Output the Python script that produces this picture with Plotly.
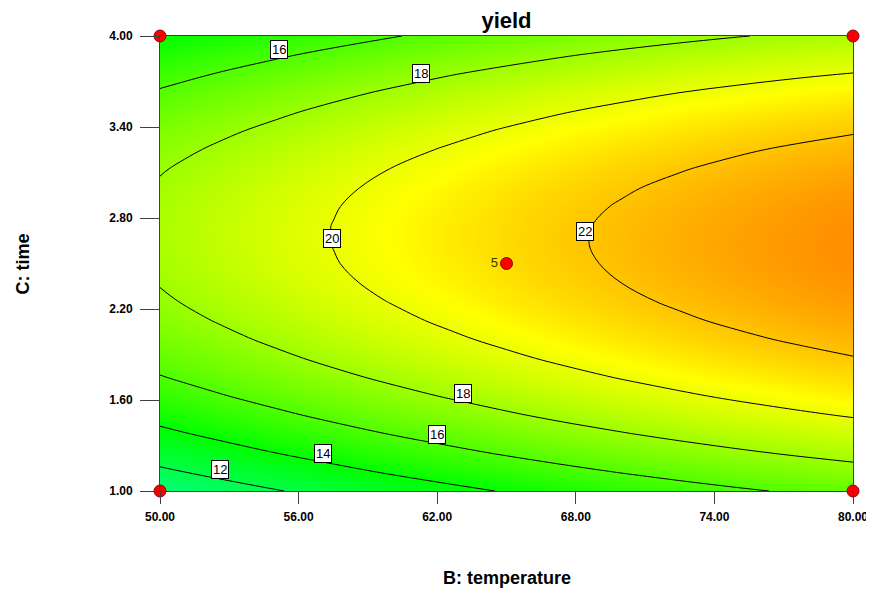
import plotly.graph_objects as go

# ---- data ----
temperature = [50, 52.5, 55, 57.5, 60, 62.5, 65, 67.5, 70, 72.5, 75, 77.5, 80]
time = [1.000, 1.125, 1.250, 1.375, 1.500, 1.625, 1.750, 1.875, 2.000, 2.125, 2.250, 2.375,
        2.500, 2.625, 2.750, 2.875, 3.000, 3.125, 3.250, 3.375, 3.500, 3.625, 3.750, 3.875, 4.000]
yield_grid = [
    [10.63, 11.29, 11.91, 12.50, 13.07, 13.60, 14.10, 14.57, 15.01, 15.43, 15.81, 16.16, 16.48],
    [11.72, 12.37, 12.99, 13.58, 14.14, 14.66, 15.16, 15.63, 16.06, 16.47, 16.85, 17.19, 17.51],
    [12.73, 13.37, 13.99, 14.57, 15.12, 15.65, 16.14, 16.60, 17.03, 17.43, 17.80, 18.14, 18.45],
    [13.65, 14.29, 14.90, 15.48, 16.03, 16.54, 17.03, 17.49, 17.91, 18.31, 18.68, 19.01, 19.32],
    [14.49, 15.13, 15.73, 16.31, 16.85, 17.36, 17.84, 18.30, 18.72, 19.11, 19.47, 19.80, 20.10],
    [15.25, 15.88, 16.48, 17.05, 17.59, 18.09, 18.57, 19.02, 19.44, 19.82, 20.18, 20.50, 20.80],
    [15.93, 16.55, 17.15, 17.71, 18.24, 18.75, 19.22, 19.66, 20.07, 20.45, 20.80, 21.13, 21.42],
    [16.52, 17.14, 17.73, 18.29, 18.82, 19.31, 19.78, 20.22, 20.63, 21.00, 21.35, 21.66, 21.95],
    [17.03, 17.65, 18.23, 18.78, 19.31, 19.80, 20.26, 20.69, 21.10, 21.47, 21.81, 22.12, 22.40],
    [17.46, 18.07, 18.65, 19.20, 19.72, 20.20, 20.66, 21.09, 21.48, 21.85, 22.19, 22.49, 22.77],
    [17.81, 18.41, 18.98, 19.53, 20.04, 20.52, 20.98, 21.40, 21.79, 22.15, 22.48, 22.78, 23.05],
    [18.07, 18.67, 19.24, 19.78, 20.28, 20.76, 21.21, 21.63, 22.01, 22.37, 22.70, 22.99, 23.26],
    [18.25, 18.84, 19.41, 19.94, 20.44, 20.92, 21.36, 21.77, 22.15, 22.51, 22.83, 23.12, 23.38],
    [18.35, 18.94, 19.50, 20.02, 20.52, 20.99, 21.43, 21.84, 22.21, 22.56, 22.88, 23.16, 23.42],
    [18.36, 18.95, 19.50, 20.02, 20.52, 20.98, 21.41, 21.82, 22.19, 22.53, 22.84, 23.12, 23.37],
    [18.29, 18.87, 19.42, 19.94, 20.43, 20.89, 21.32, 21.71, 22.08, 22.42, 22.72, 23.00, 23.24],
    [18.14, 18.72, 19.26, 19.78, 20.26, 20.71, 21.14, 21.53, 21.89, 22.22, 22.52, 22.79, 23.03],
    [17.91, 18.48, 19.02, 19.53, 20.01, 20.45, 20.87, 21.26, 21.62, 21.94, 22.24, 22.51, 22.74],
    [17.59, 18.16, 18.69, 19.20, 19.67, 20.11, 20.53, 20.91, 21.26, 21.58, 21.88, 22.14, 22.37],
    [17.20, 17.76, 18.28, 18.78, 19.25, 19.69, 20.10, 20.48, 20.82, 21.14, 21.43, 21.68, 21.91],
    [16.72, 17.27, 17.79, 18.29, 18.75, 19.19, 19.59, 19.96, 20.30, 20.62, 20.90, 21.15, 21.37],
    [16.15, 16.70, 17.22, 17.71, 18.17, 18.60, 19.00, 19.36, 19.70, 20.01, 20.28, 20.53, 20.75],
    [15.50, 16.05, 16.56, 17.05, 17.50, 17.93, 18.32, 18.68, 19.01, 19.32, 19.59, 19.83, 20.04],
    [14.78, 15.32, 15.83, 16.31, 16.75, 17.17, 17.56, 17.92, 18.25, 18.54, 18.81, 19.05, 19.25],
    [14.05, 14.50, 15.00, 15.48, 15.92, 16.34, 16.72, 17.07, 17.39, 17.69, 17.95, 18.18, 18.38],
]
design_x = [50, 50, 80, 80, 65]
design_y = [1.00, 4.00, 1.00, 4.00, 2.50]
design_text = ["", "", "", "", "5"]

label_text = ["16", "18", "20", "22", "18", "16", "14", "12"]
label_x = [55.15, 61.3, 57.45, 68.4, 63.1, 62.0, 57.05, 52.6]
label_y = [3.914, 3.756, 2.668, 2.708, 1.64, 1.37, 1.244, 1.145]

x_ticks = [50, 56, 62, 68, 74, 80]
y_ticks = [1.0, 1.6, 2.2, 2.8, 3.4, 4.0]

fig = go.Figure()
fig.add_trace(go.Contour(
    x=temperature, y=time, z=yield_grid,
    zmin=7, zmax=27,
    colorscale=[[0, "#00ffff"], [0.35, "#00ff00"], [0.675, "#ffff00"], [1, "#ff0000"]],
    autocontour=False,
    contours=dict(start=12, end=22, size=2, coloring="heatmap", showlabels=False),
    line=dict(color="black", width=1, smoothing=1.0),
    showscale=False,
    hoverinfo="skip",
))
fig.add_trace(go.Scatter(
    x=design_x, y=design_y, mode="markers+text", text=design_text,
    textposition="middle left",
    textfont=dict(family="Liberation Sans, Arial", size=13, color="#3a3a00"),
    marker=dict(color="#ff0000", size=12, line=dict(color="#8b0000", width=1)),
    cliponaxis=False, showlegend=False,
))

annotations = []
for t, lx, ly in zip(label_text, label_x, label_y):
    annotations.append(dict(
        x=lx, y=ly, xref="x", yref="y", text=t, showarrow=False,
        font=dict(family="Liberation Sans, Arial", size=13, color="black"),
        bgcolor="white", bordercolor="black", borderwidth=1, borderpad=1,
    ))
annotations.append(dict(
    x=0.5, y=-0.191, xref="paper", yref="paper", text="<b>B: temperature</b>",
    showarrow=False, font=dict(family="Liberation Sans, Arial", size=18, color="black"),
    xanchor="center", yanchor="middle",
))
annotations.append(dict(
    x=-0.1977, y=0.5, xref="paper", yref="paper", text="<b>C: time</b>", textangle=-90,
    showarrow=False, font=dict(family="Liberation Sans, Arial", size=18, color="black"),
    xanchor="center", yanchor="middle",
))

# the page body adds an 8px offset, so the figure is 8px smaller on each side
fig.update_layout(
    width=866, height=586,
    margin=dict(l=152, r=21, t=28, b=103, autoexpand=False),
    paper_bgcolor="white", plot_bgcolor="white",
    title=dict(text="<b>yield</b>", x=0.5, xref="paper", y=1 - 12 / 586, yref="container",
               xanchor="center", yanchor="middle",
               font=dict(family="Liberation Sans, Arial", size=22, color="black")),
    annotations=annotations,
    showlegend=False,
)
fig.update_xaxes(
    range=[50, 80], tickvals=x_ticks, tickformat=".2f", automargin=False,
    ticks="outside", ticklen=12, tickcolor="#404040", tickwidth=1,
    ticklabelstandoff=3,
    tickfont=dict(family="Liberation Sans, Arial", size=12, color="black", weight="bold"),
    showline=True, linecolor="#404040", linewidth=1, mirror=True,
    showgrid=False, zeroline=False,
)
fig.update_yaxes(
    range=[1, 4], tickvals=y_ticks, tickformat=".2f", automargin=False,
    ticks="outside", ticklen=19, tickcolor="#404040", tickwidth=1,
    ticklabelstandoff=5,
    tickfont=dict(family="Liberation Sans, Arial", size=12, color="black", weight="bold"),
    showline=True, linecolor="#404040", linewidth=1, mirror=True,
    showgrid=False, zeroline=False,
)

fig.write_html("out.html")
